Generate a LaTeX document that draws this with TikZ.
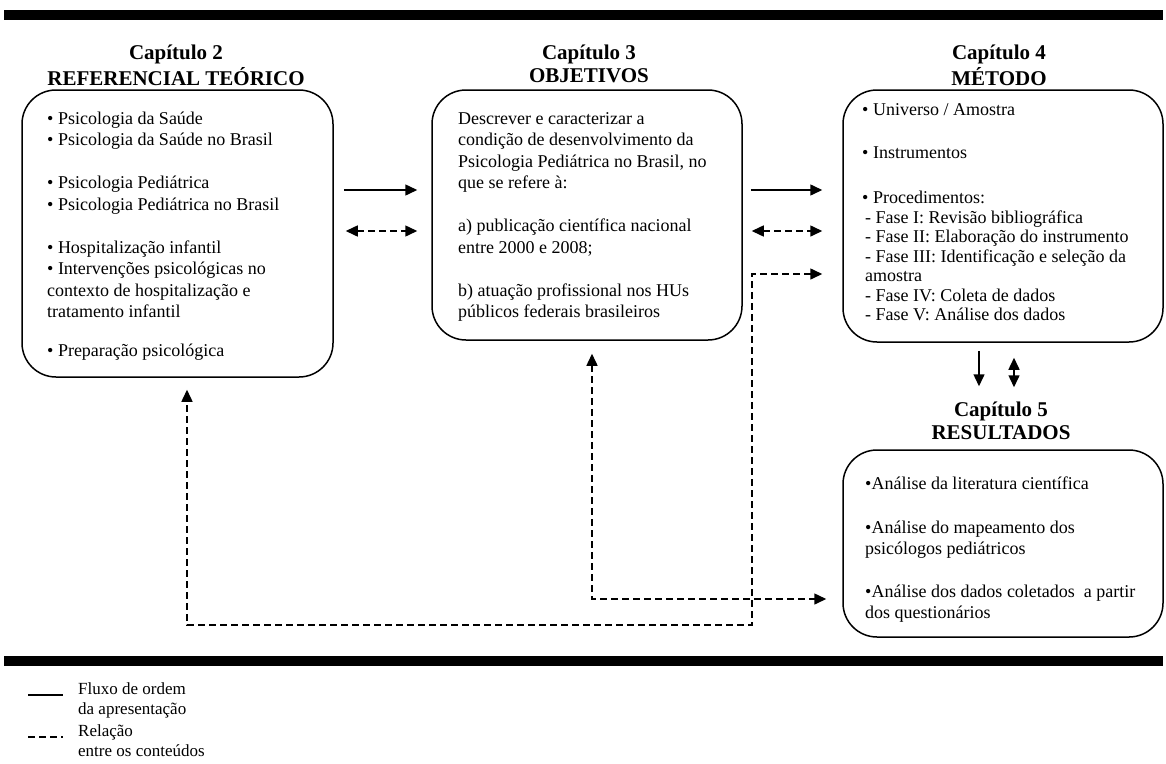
\documentclass[tikz,border=0pt]{standalone}
\usepackage{fontspec}
\setmainfont{Liberation Serif}
\usetikzlibrary{arrows.meta,calc}
\begin{document}
\begin{tikzpicture}[x=1pt,y=-1pt,
  >={Triangle[length=12pt,width=11pt]},
  chap/.style={draw,line width=1.5pt,rounded corners=34pt,inner sep=0pt},
  head/.style={font=\fontsize{21}{23}\selectfont\bfseries,align=center,anchor=north,inner sep=0pt},
  body/.style={font=\fontsize{18}{21.5}\selectfont,align=left,anchor=north west,inner sep=0pt},
  legendtxt/.style={font=\fontsize{17}{20}\selectfont,align=left,anchor=north west,inner sep=0pt},
  flow/.style={line width=1.5pt,->},
  relboth/.style={line width=1.5pt,dash pattern=on 7pt off 4pt,<->},
  bar/.style={fill=black}]
\useasboundingbox (0,0) rectangle (1166,763);

% thick rules framing the scheme
\fill[bar] (4,10) rectangle (1163,20);
\fill[bar] (4,656) rectangle (1163,666);

% chapter boxes
\node[chap,minimum width=311pt,minimum height=287pt] (ch2) at (177.5,233.5) {};
\node[chap,minimum width=310pt,minimum height=250pt] (ch3) at (587,215) {};
\node[chap,minimum width=320pt,minimum height=252pt] (ch4) at (1003,216) {};
\node[chap,minimum width=320pt,minimum height=187pt] (ch5) at (1003,543.5) {};

% chapter headings
\node[head] (h2) at (176,43) {\strut Capítulo 2\\REFERENCIAL TEÓRICO};
\node[head] (h3) at (589,43) {\strut Capítulo 3\\OBJETIVOS};
\node[head] (h4) at (999,43) {\strut Capítulo 4\\MÉTODO};
\node[head] (h5) at (1001,400) {\strut Capítulo 5\\RESULTADOS};

% chapter contents
\node[body] (t2) at (47,109) {\strut • Psicologia da Saúde\\
• Psicologia da Saúde no Brasil\\[21.5pt]
• Psicologia Pediátrica\\
• Psicologia Pediátrica no Brasil\\[21.5pt]
• Hospitalização infantil\\
• Intervenções psicológicas no\\
contexto de hospitalização e\\
tratamento infantil\\[17pt]
• Preparação psicológica};

\node[body] (t3) at (458,109) {\strut Descrever e caracterizar a\\
condição de desenvolvimento da\\
Psicologia Pediátrica no Brasil, no\\
que se refere à:\\[21.5pt]
a) publicação científica nacional\\
entre 2000 e 2008;\\[21.5pt]
b) atuação profissional nos HUs\\
públicos federais brasileiros};

\node[body,font=\fontsize{18}{19.5}\selectfont] (t4) at (862,102) {\strut • Universo / Amostra\\[23.5pt]
• Instrumentos\\[25.5pt]
• Procedimentos:\\
\hspace{3pt}- Fase I: Revisão bibliográfica\\
\hspace{3pt}- Fase II: Elaboração do instrumento\\
\hspace{3pt}- Fase III: Identificação e seleção da\\
\hspace{3pt}amostra\\
\hspace{3pt}- Fase IV: Coleta de dados\\
\hspace{3pt}- Fase V: Análise dos dados};

\node[body,font=\fontsize{18}{21}\selectfont] (t5) at (865,474.3) {\strut •Análise da literatura científica\\[23pt]
•Análise do mapeamento dos\\
psicólogos pediátricos\\[22pt]
•Análise dos dados coletados\ \ a partir\\
dos questionários};

% order of presentation
\draw[flow] ($(ch2.east|-0,190)+(10,0)$) -- ($(ch3.west|-0,190)+(-14,0)$);
\draw[flow] ($(ch3.east|-0,190)+(8,0)$) -- ($(ch4.west|-0,190)+(-20,0)$);
\draw[flow] ($(ch4.south)+(-24,8)$) -- ($(ch5.north)+(-24,-63)$);

% relations between contents
\draw[relboth] ($(ch2.east|-0,231)+(12,0)$) -- ($(ch3.west|-0,231)+(-14,0)$);
\draw[relboth] ($(ch3.east|-0,231)+(9,0)$) -- ($(ch4.west|-0,231)+(-20,0)$);
\draw[relboth] ($(ch4.south)+(11,15)$) -- ($(ch5.north)+(11,-62)$);
\coordinate (bend) at (752,625);
\draw[relboth] ($(ch4.west|-0,274)+(-20,0)$) -| (bend) -| ($(ch2.south)+(9.5,12)$);
\draw[relboth] ($(ch3.south)+(5,13)$) |- ($(ch5.west|-0,599)+(-16,0)$);

% legend
\draw[line width=1.5pt] (28,695) -- (63,695);
\draw[line width=1.5pt,dash pattern=on 6.5pt off 4.5pt] (28,737) -- (63,737);
\node[legendtxt] (lg1) at (78,680) {\strut Fluxo de ordem\\da apresentação};
\node[legendtxt] (lg2) at (78,722) {\strut Relação\\entre os conteúdos};
\end{tikzpicture}
\end{document}
